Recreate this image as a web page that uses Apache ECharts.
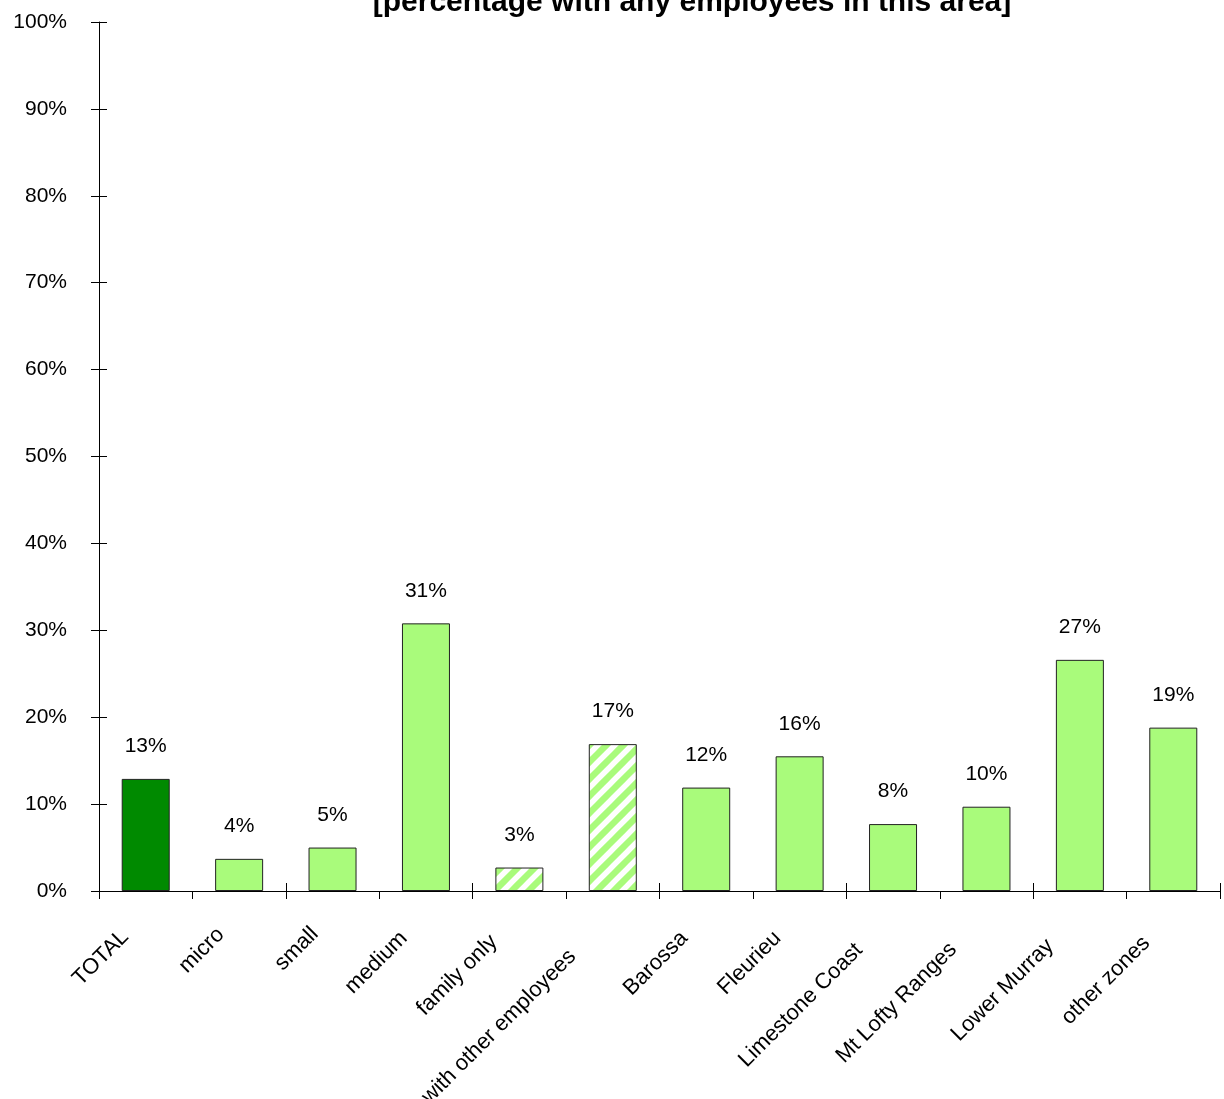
<!DOCTYPE html>
<html>
<head>
<meta charset="utf-8">
<title>Percentage with any employees in this area</title>
<script src="https://cdn.jsdelivr.net/npm/echarts@6/dist/echarts.min.js"></script>
<style>
  html, body { margin: 0; padding: 0; background: #fff; }
  #chart { width: 1224px; height: 1099px; }
</style>
</head>
<body>
<div id="chart"></div>
<script>
// Categories along the x axis
const categories = ['TOTAL', 'micro', 'small', 'medium', 'family only', 'with other employees',
  'Barossa', 'Fleurieu', 'Limestone Coast', 'Mt Lofty Ranges', 'Lower Murray', 'other zones'];

// Share of businesses with any employees in this area (%)
const values = [12.9, 3.7, 5.0, 30.8, 2.7, 16.9, 11.9, 15.5, 7.7, 9.7, 26.6, 18.8];

// Y axis tick values (%)
const yTicks = [0, 10, 20, 30, 40, 50, 60, 70, 80, 90, 100];

// Groups drawn with special fills
const totalGroup = ['TOTAL'];
const hatchedGroup = ['family only', 'with other employees'];

const DARK = '#008a00';
const LIGHT = '#a9fb7b';
const FONT = '"Liberation Sans", Arial, sans-serif';
const X_LABEL_SIZE = 22;

// Diagonal white stripes on light green
function stripePattern() {
  const s = 17;
  const c = document.createElement('canvas');
  c.width = s; c.height = s;
  const g = c.getContext('2d');
  g.fillStyle = LIGHT;
  g.fillRect(0, 0, s, s);
  g.strokeStyle = '#ffffff';
  g.lineWidth = 5.5;
  g.beginPath();
  g.moveTo(-4, s + 4); g.lineTo(s + 4, -4);
  g.moveTo(-4, 4); g.lineTo(4, -4);
  g.moveTo(s - 4, s + 4); g.lineTo(s + 4, s - 4);
  g.stroke();
  return c;
}
const hatch = { image: stripePattern(), repeat: 'repeat' };

const barData = values.map((v, i) => {
  const name = categories[i];
  let color = LIGHT;
  if (totalGroup.includes(name)) color = DARK;
  else if (hatchedGroup.includes(name)) color = hatch;
  return { value: v, itemStyle: { color: color } };
});

// Rotated axis labels slide down-left a little more the longer they are
const measureCtx = document.createElement('canvas').getContext('2d');
measureCtx.font = X_LABEL_SIZE + 'px ' + FONT;
const labelRich = {};
categories.forEach((c, i) => {
  const w = measureCtx.measureText(c).width;
  labelRich['c' + i] = {
    fontSize: X_LABEL_SIZE,
    fontFamily: FONT,
    color: '#000',
    padding: [0, Math.round(15 + 0.2 * w), 0, 0]
  };
});

const chart = echarts.init(document.getElementById('chart'), null, { renderer: 'canvas' });

const yMin = yTicks[0], yMax = yTicks[yTicks.length - 1], yStep = yTicks[1] - yTicks[0];

chart.setOption({
  backgroundColor: '#ffffff',
  animation: false,
  graphic: [{
    type: 'text',
    x: 692,
    y: -12,
    style: {
      text: '[percentage with any employees in this area]',
      font: 'bold 30px ' + FONT,
      fill: '#000',
      align: 'center',
      verticalAlign: 'top'
    }
  }],
  grid: { left: 99, right: 4, top: 22, bottom: 208, containLabel: false, outerBoundsMode: 'none' },
  xAxis: [{
    type: 'category',
    data: categories,
    boundaryGap: true,
    axisLine: { lineStyle: { color: '#000', width: 1 } },
    axisTick: { show: true, length: 8, alignWithLabel: false, lineStyle: { color: '#000' } },
    axisLabel: {
      interval: 0,
      rotate: 45,
      margin: 22,
      fontSize: X_LABEL_SIZE,
      fontFamily: FONT,
      color: '#000',
      formatter: (v, i) => '{c' + i + '|' + v + '}',
      rich: labelRich
    },
    splitLine: { show: false }
  }, {
    // inner half of the crossing ticks
    type: 'category',
    data: categories,
    position: 'bottom',
    boundaryGap: true,
    axisLine: { show: false },
    axisTick: { show: true, inside: true, length: 8, lineStyle: { color: '#000' } },
    axisLabel: { show: false },
    splitLine: { show: false }
  }],
  yAxis: [{
    type: 'value',
    min: yMin,
    max: yMax,
    interval: yStep,
    axisLine: { show: true, lineStyle: { color: '#000', width: 1 } },
    axisTick: { show: true, length: 8, lineStyle: { color: '#000' } },
    axisLabel: {
      formatter: '{value}%',
      margin: 32,
      fontSize: 21,
      fontFamily: FONT,
      color: '#000'
    },
    splitLine: { show: false }
  }, {
    type: 'value',
    position: 'left',
    min: yMin,
    max: yMax,
    interval: yStep,
    axisLine: { show: false },
    axisTick: { show: true, inside: true, length: 8, lineStyle: { color: '#000' } },
    axisLabel: { show: false },
    splitLine: { show: false }
  }],
  series: [{
    type: 'bar',
    data: barData,
    barWidth: 48,
    itemStyle: { borderColor: '#222', borderWidth: 1 },
    label: {
      show: true,
      position: 'top',
      distance: 22,
      fontSize: 21,
      fontFamily: FONT,
      color: '#000',
      formatter: p => Math.round(p.value) + '%'
    }
  }]
});
</script>
</body>
</html>
